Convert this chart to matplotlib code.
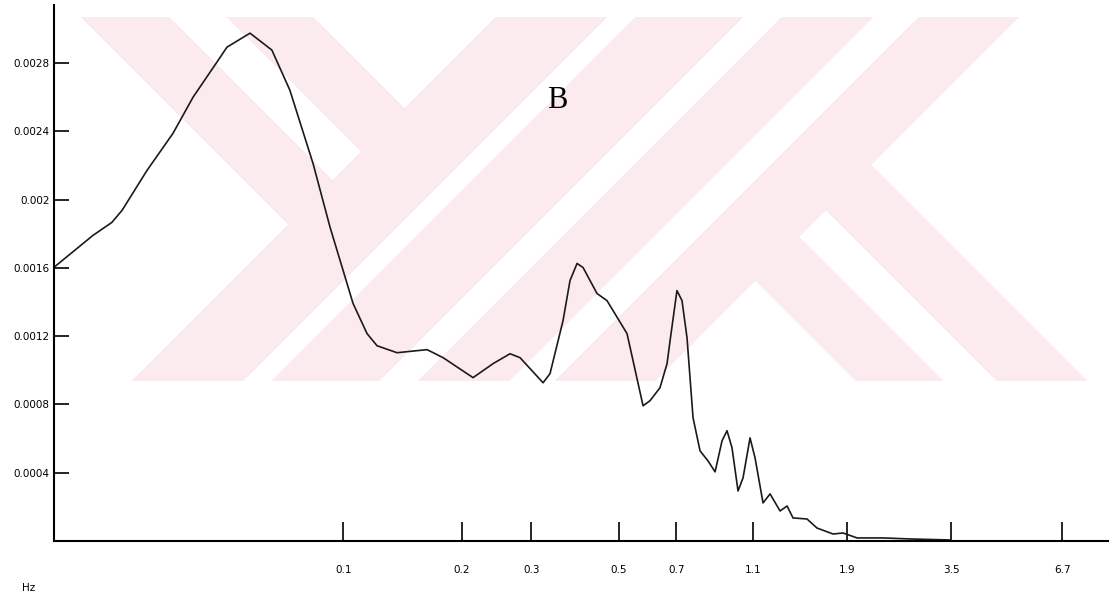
import numpy as np
import matplotlib
matplotlib.use('Agg')
import matplotlib.pyplot as plt

# spectrum (Hz, power in 1e-3 units)
freq = [0.0185, 0.0231, 0.0258, 0.0274, 0.0317, 0.0369, 0.0415, 0.0477, 0.0506, 0.0579,
        0.0658, 0.0731, 0.0837, 0.0925, 0.0998, 0.1058, 0.1148, 0.1217, 0.1368, 0.1631,
        0.1791, 0.2134, 0.2399, 0.2649, 0.2809, 0.3214, 0.3347, 0.3612, 0.3763, 0.3921,
        0.4061, 0.4406, 0.4672, 0.5252, 0.5768, 0.6008, 0.6369, 0.6637, 0.6756, 0.7033,
        0.7244, 0.7459, 0.7727, 0.8050, 0.8435, 0.8790, 0.9155, 0.9426, 0.9705, 1.0053,
        1.0351, 1.0784, 1.1104, 1.1636, 1.2123, 1.2853, 1.3391, 1.3868, 1.5048, 1.5953,
        1.7523, 1.8578, 2.0162, 2.3473, 2.749, 3.474]
psd = [1.608, 1.790, 1.866, 1.937, 2.171, 2.388, 2.600, 2.805, 2.893, 2.975,
       2.876, 2.641, 2.212, 1.837, 1.585, 1.391, 1.215, 1.144, 1.103, 1.121,
       1.074, 0.957, 1.039, 1.097, 1.074, 0.927, 0.980, 1.291, 1.526, 1.626,
       1.602, 1.450, 1.408, 1.215, 0.792, 0.822, 0.898, 1.039, 1.174, 1.467,
       1.408, 1.191, 0.722, 0.528, 0.469, 0.405, 0.587, 0.646, 0.546, 0.293,
       0.370, 0.604, 0.487, 0.223, 0.276, 0.176, 0.205, 0.135, 0.129, 0.076,
       0.041, 0.047, 0.018, 0.018, 0.012, 0.006]

xticks = [0.1, 0.2, 0.3, 0.5, 0.7, 1.1, 1.9, 3.5, 6.7]
xticklabels = ['0.1', '0.2', '0.3', '0.5', '0.7', '1.1', '1.9', '3.5', '6.7']
yticks = [0.0004, 0.0008, 0.0012, 0.0016, 0.002, 0.0024, 0.0028]
yticklabels = ['0.0004', '0.0008', '0.0012', '0.0016', '0.002', '0.0024', '0.0028']

W, H = 1112, 605
fig = plt.figure(figsize=(W / 100, H / 100), dpi=100)

# pale pink scan watermark behind the plot
yy, xx = np.mgrid[0:H, 0:W]
u = xx + yy
v = xx - yy
left = (u < 512) & (((v >= 64) & (v < 153)) | ((v >= 210) & (v < 297)))
gaps = ((u >= 624) & (u < 652)) | ((u >= 760) & (u < 798)) | ((u >= 890) & (u < 935))
mid = (u >= 512) & (u < 1036) & ~gaps
kk = (u >= 1036) & (v >= 475) & (v < 707) & ~((v >= 563) & (v < 616))
mask = (left | mid | kk) & (yy >= 17) & (yy <= 380) & (xx <= 1092)
img = np.zeros((H, W, 4))
img[mask] = [252 / 255, 235 / 255, 238 / 255, 1.0]
fig.figimage(img, 0, 0, origin='upper', zorder=-1)

ax = fig.add_axes([54 / W, 1 - 541 / H, (1108 - 54) / W, (541 - 5) / H])
ax.set_zorder(2)
ax.set_facecolor('none')
ax.plot(freq, np.array(psd) * 1e-3, color='#1a1a1a', lw=1.2)
ax.set_xscale('log')
ax.set_xlim(0.0184, 8.75)
ax.set_ylim(0, 0.00314)
ax.minorticks_off()
ax.set_xticks(xticks, xticklabels)
ax.set_yticks(yticks, yticklabels)
ax.spines['top'].set_visible(False)
ax.spines['right'].set_visible(False)
for s in ['left', 'bottom']:
    ax.spines[s].set_linewidth(1.5)
ax.tick_params(axis='x', direction='in', length=14, width=1.2, pad=17, labelsize=7.5)
ax.tick_params(axis='y', direction='in', length=11, width=1.2, pad=3, labelsize=7.5)

fig.text(557 / W, 1 - 100 / H, 'B', family='Liberation Serif', fontsize=22, ha='center', va='center')
fig.text(29 / W, 1 - 588 / H, 'Hz', fontsize=7.5, ha='center', va='center')

fig.savefig('out.png', dpi=100)
